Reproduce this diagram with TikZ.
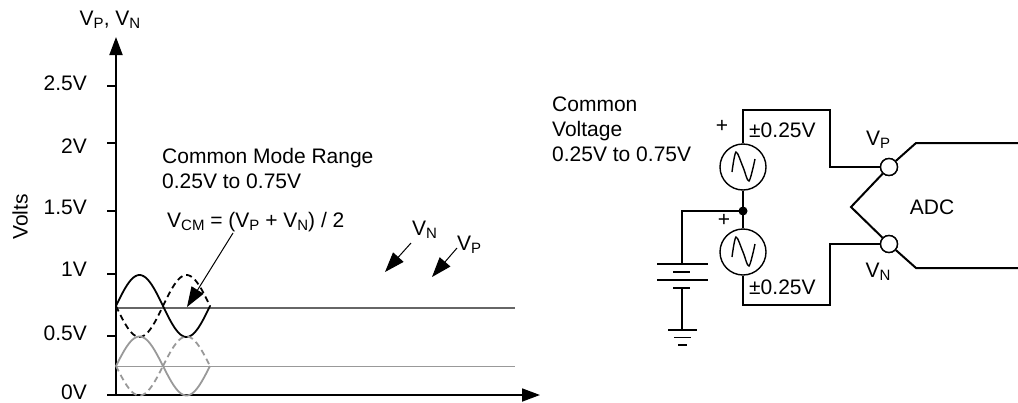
\documentclass[tikz,border=0pt]{standalone}
\usepackage{fontspec}
\setmainfont{Liberation Sans}
\usetikzlibrary{arrows.meta,calc}
\newcommand{\lowsub}[1]{\raisebox{-0.3ex}{\fontsize{15}{15}\selectfont #1}}
\tikzset{
	lbl/.style={inner sep=0pt, font=\fontsize{21}{25}\selectfont},
	wire/.style={line width=1.6pt},
	srcbox/.style={circle, draw, line width=1.4pt, minimum size=46pt, inner sep=0pt},
	pin/.style={circle, draw, fill=white, line width=1.4pt, minimum size=17pt, inner sep=0pt},
	hintarrow/.style={line width=1pt, -{Triangle[length=20pt,width=14pt]}},
	wavedash/.style={dash pattern=on 6pt off 4pt}
}

\begin{document}
\begin{tikzpicture}[x=1pt, y=-1pt]
		%%%%% START %%%%%
		\useasboundingbox (0,0) rectangle (1018,402);
		
		% axes
		\draw[line width=1.8pt, -{Triangle[length=18pt,width=13pt]}] (116,395) -- (116,37);
		\draw[line width=1.8pt, -{Triangle[length=18pt,width=13pt]}] (107,395) -- (540,395);
		\foreach \ty in {86, 143, 211, 274, 336}
			\draw[line width=1.5pt] (107,\ty) -- (116,\ty);
		\node[lbl, anchor=east] (t0) at (87,392) {0V};
		\node[lbl, anchor=east] (t05) at (87,333) {0.5V};
		\node[lbl, anchor=east] (t1) at (87,269) {1V};
		\node[lbl, anchor=east] (t15) at (87,207) {1.5V};
		\node[lbl, anchor=east] (t2) at (87,146) {2V};
		\node[lbl, anchor=east] (t25) at (87,83) {2.5V};
		\node[lbl, rotate=90] (volts) at (20,217) {Volts};
		\node[lbl] (axname) at (110,20) {V\lowsub{P}, V\lowsub{N}};
		
		% common mode levels
		\draw[line width=1.3pt, black!60] (116,308) -- (515,308);
		\draw[line width=1pt, black!40] (116,366) -- (515,366);
		
		% V_P and V_N around 0.75V
		\draw[line width=1.8pt, domain=0:47, samples=30] plot ({116+\x}, {306-31*sin(\x/47*180)});
		\draw[line width=1.8pt, domain=0:47, samples=30] plot ({163+\x}, {306+31*sin(\x/47*180)});
		\draw[line width=1.8pt, wavedash, domain=0:47, samples=30] plot ({116+\x}, {306+31*sin(\x/47*180)});
		\draw[line width=1.8pt, wavedash, domain=0:47, samples=30] plot ({163+\x}, {306-31*sin(\x/47*180)});
		
		% V_P and V_N around 0.25V
		\draw[line width=1.8pt, black!40, domain=0:47, samples=30] plot ({116+\x}, {366-29.5*sin(\x/47*180)});
		\draw[line width=1.8pt, black!40, domain=0:47, samples=30] plot ({163+\x}, {366+29.5*sin(\x/47*180)});
		\draw[line width=1.8pt, black!40, wavedash, domain=0:47, samples=30] plot ({116+\x}, {366+29.5*sin(\x/47*180)});
		\draw[line width=1.8pt, black!40, wavedash, domain=0:47, samples=30] plot ({163+\x}, {366-29.5*sin(\x/47*180)});
		
		% notes
		\node[lbl, anchor=west, align=left] (cmrange) at (162,168) {Common Mode Range\\0.25V to 0.75V};
		\node[lbl, anchor=west] (vcm) at (167,222) {V\lowsub{CM} = (V\lowsub{P} + V\lowsub{N}) / 2};
		\coordinate (vcmtail) at (233,233);
		\coordinate (vcmtip) at (187,307);
		\draw[hintarrow] (vcmtail) -- (vcmtip);
		\node[lbl, anchor=west] (vnnote) at (412,230) {V\lowsub{N}};
		\coordinate (vntip) at (385,272);
		\draw[hintarrow] (411,243) -- (vntip);
		\node[lbl, anchor=west] (vpnote) at (457,245) {V\lowsub{P}};
		\coordinate (vptip) at (432,277);
		\draw[hintarrow] (457,248) -- (vptip);
		
		% circuit
		\node[lbl, anchor=west, align=left] (cvtext) at (552,129) {Common\\Voltage\\0.25V to 0.75V};
		\node[srcbox] (srcp) at (743,167) {};
		\node[srcbox] (srcn) at (743,252) {};
		\foreach \s in {srcp, srcn}
			\draw[line width=1.4pt] plot[smooth] coordinates {($(\s)+(-11,5)$) ($(\s)+(-7,-15)$) ($(\s)+(0,0)$) ($(\s)+(6,14)$) ($(\s)+(12,-8)$)};
		\node[lbl] (plusp) at (722,126) {+};
		\node[lbl] (plusn) at (724,220) {+};
		\node[lbl, anchor=west] (ampp) at (749,130) {±0.25V};
		\node[lbl, anchor=west] (ampn) at (749,287) {±0.25V};
		\fill (743,211) circle (4.5pt) coordinate (junc);
		\node[pin] (pinp) at (889,167) {};
		\node[pin] (pinn) at (889,244) {};
		\node[lbl] (vplab) at (878,140) {V\lowsub{P}};
		\node[lbl] (vnlab) at (878,272) {V\lowsub{N}};
		
		\draw[wire] (srcp.north) -- (743,110) -- (830,110) -- (830,167) -- (pinp);
		\draw[wire] (srcn.south) -- (743,305) -- (830,305) -- (830,244) -- (pinn);
		\draw[wire] (srcp) -- (junc) -- (srcn);
		\draw[wire] (junc) -- (682,211) -- (682,264);
		
		% battery and ground
		\draw[wire] (657,264) -- (708,264);
		\draw[wire] (673,272) -- (690,272);
		\draw[wire] (657,280) -- (708,280);
		\draw[wire] (673,288) -- (690,288);
		\draw[wire] (682,288) -- (682,330);
		\draw[wire] (668,330) -- (697,330);
		\draw[wire] (674,337.5) -- (691,337.5);
		\draw[wire] (678,345) -- (687,345);
		
		% ADC input
		\coordinate (apex) at (851,207);
		\draw[line width=2pt] (1018,143) -- (916,143) -- (pinp) -- (apex) -- (pinn) -- (916,268) -- (1018,268);
		\node[pin] at (pinp) {};
		\node[pin] at (pinn) {};
		\node[lbl] (adc) at (932,207) {ADC};
		%%%%% END %%%%%
	\end{tikzpicture}
\end{document}
